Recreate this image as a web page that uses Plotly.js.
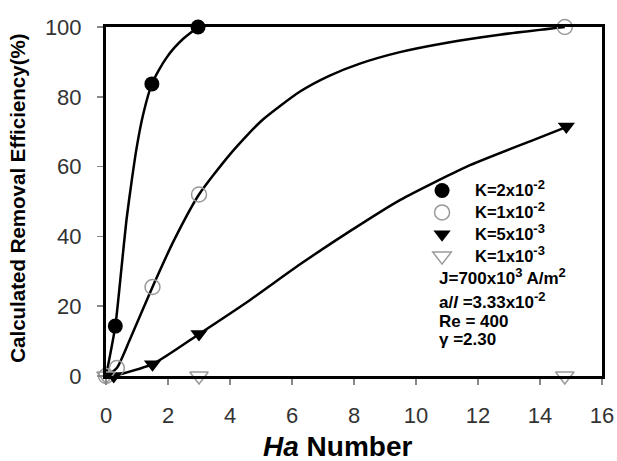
<!DOCTYPE html>
<html>
<head>
<meta charset="utf-8">
<script src="https://cdn.plot.ly/plotly-3.0.1.min.js"></script>
<style>html,body{margin:0;padding:0;background:#fff;}#chart{width:617px;height:461px;}</style>
</head>
<body>
<div id="chart"></div>
<script>
// Marker data (Ha number vs calculated removal efficiency %)
const haK2e2 = [0.3, 1.48, 2.97];
const effK2e2 = [14.3, 83.7, 100];
const haK1e2 = [0, 0.35, 1.5, 3.0, 14.8];
const effK1e2 = [0, 2.3, 25.5, 52, 100];
const haK5e3 = [0.25, 1.5, 3.0, 14.85];
const effK5e3 = [0, 3.4, 12, 71.5];
const haK1e3 = [0, 3.0, 14.8];
const effK1e3 = [0, 0, 0];

// Curves
const curveXK2e2 = [0, 0.3, 0.5, 0.66, 0.83, 1.0, 1.2, 1.48, 1.7, 1.96, 2.2, 2.5, 2.97];
const curveYK2e2 = [0, 14.3, 31, 44.7, 56, 66, 75, 83.7, 87.6, 91.3, 94.0, 96.7, 100];
const curveXK1e2 = [0, 0.35, 0.75, 1.5, 2.2, 3.0, 4.0, 5.0, 6.26, 7.2, 8.19, 9.48, 11, 12.7, 14.8];
const curveYK1e2 = [0, 2.3, 10, 25.5, 39, 52, 63.5, 73, 81.5, 86, 89.5, 92.8, 95.5, 97.8, 100];
const curveXK5e3 = [0.25, 1.5, 3.03, 4.65, 6.26, 7.87, 9.48, 11.64, 13.78, 14.86];
const curveYK5e3 = [0, 3.4, 12.2, 21.8, 32.0, 41.5, 50.4, 60, 67.6, 71.4];

const sup = (s, px) => '<sup><span style="font-size:' + px + 'px">' + s + '</span></sup>';
const big = s => '<span style="font-size:16.5px">' + s + '</span>';
const legendNames = [big('K=2x10' + sup('-2', 13)), big('K=1x10' + sup('-2', 13)),
                     big('K=5x10' + sup('-3', 13)), big('K=1x10' + sup('-3', 13))];
const xTicks = [0, 2, 4, 6, 8, 10, 12, 14, 16];
const yTicks = [0, 20, 40, 60, 80, 100];

const lineStyle = {color: '#000', width: 2.5, shape: 'spline', smoothing: 0.6};
const traces = [
  {x: curveXK2e2, y: curveYK2e2, mode: 'lines', line: lineStyle, showlegend: false, hoverinfo: 'skip'},
  {x: curveXK1e2, y: curveYK1e2, mode: 'lines', line: lineStyle, showlegend: false, hoverinfo: 'skip'},
  {x: curveXK5e3, y: curveYK5e3, mode: 'lines', line: lineStyle, showlegend: false, hoverinfo: 'skip'},
  {x: haK2e2, y: effK2e2, mode: 'markers', name: legendNames[0], cliponaxis: false,
   marker: {symbol: 'circle', size: 15, color: '#000'}},
  {x: haK1e2, y: effK1e2, mode: 'markers', name: legendNames[1], cliponaxis: false,
   marker: {symbol: 'circle-open', size: 15, color: '#999', line: {width: 1.5, color: '#999'}}},
  {x: haK5e3, y: effK5e3, mode: 'markers', name: legendNames[2], cliponaxis: false,
   marker: {symbol: 'triangle-down', size: 15, color: '#000'}},
  {x: haK1e3, y: effK1e3, mode: 'markers', name: legendNames[3], cliponaxis: false,
   marker: {symbol: 'triangle-down-open', size: 16, color: '#999', line: {width: 1.5, color: '#999'}}}
];

const font = 'Liberation Sans, Arial, sans-serif';
const noteFont = {family: font, size: 17, color: '#000'};
const layout = {
  width: 617, height: 461,
  margin: {l: 106, r: 15, t: 27, b: 85},
  paper_bgcolor: '#fff', plot_bgcolor: '#fff',
  font: {family: font, color: '#000'},
  showlegend: true,
  legend: {x: 0.611, y: 0.577, xanchor: 'left', yanchor: 'top', bgcolor: 'rgba(0,0,0,0)',
           font: {family: font, size: 14.5, color: '#000', weight: 'bold'}, tracegroupgap: 0,
           itemwidth: 56},
  xaxis: {range: [0, 16], tickvals: xTicks, ticktext: xTicks.map(String), showgrid: false, zeroline: false,
          showline: true, linecolor: '#000', linewidth: 3, mirror: true,
          ticks: 'outside', ticklen: 6, tickwidth: 1.5, tickcolor: '#888',
          tickfont: {family: font, size: 22, color: '#333'}, ticklabelstandoff: 12},
  yaxis: {range: [0, 100], tickvals: yTicks, ticktext: yTicks.map(String), showgrid: false, zeroline: false,
          showline: true, linecolor: '#000', linewidth: 3, mirror: true,
          ticks: 'outside', ticklen: 6, tickwidth: 1.5, tickcolor: '#888',
          tickfont: {family: font, size: 22, color: '#333'}, ticklabelstandoff: 11},
  annotations: [
    {xref: 'paper', yref: 'paper', x: 0.466, y: -0.203, xanchor: 'center', yanchor: 'middle', showarrow: false,
     text: '<b><i>Ha</i> Number</b>', font: {family: font, size: 28, color: '#000'}},
    {xref: 'paper', yref: 'paper', x: -0.18, y: 0.51, xanchor: 'center', yanchor: 'middle', showarrow: false,
     textangle: -90, text: '<b>Calculated Removal Efficiency(%)</b>', font: {family: font, size: 20.5, color: '#000'}},
    {xref: 'paper', yref: 'paper', x: 0.667, y: 0.285, xanchor: 'left', yanchor: 'middle', showarrow: false,
     text: '<b>J=700x10' + sup('3', 13) + ' A/m' + sup('2', 13) + '</b>', font: noteFont},
    {xref: 'paper', yref: 'paper', x: 0.667, y: 0.215, xanchor: 'left', yanchor: 'middle', showarrow: false,
     text: '<b>a/<i>l</i> =3.33x10' + sup('-2', 13) + '</b>', font: noteFont},
    {xref: 'paper', yref: 'paper', x: 0.667, y: 0.157, xanchor: 'left', yanchor: 'middle', showarrow: false,
     text: '<b>Re = 400</b>', font: noteFont},
    {xref: 'paper', yref: 'paper', x: 0.667, y: 0.106, xanchor: 'left', yanchor: 'middle', showarrow: false,
     text: '<b>γ =2.30</b>', font: noteFont}
  ]
};

Plotly.newPlot('chart', traces, layout, {displayModeBar: false, staticPlot: true});
</script>
</body>
</html>
